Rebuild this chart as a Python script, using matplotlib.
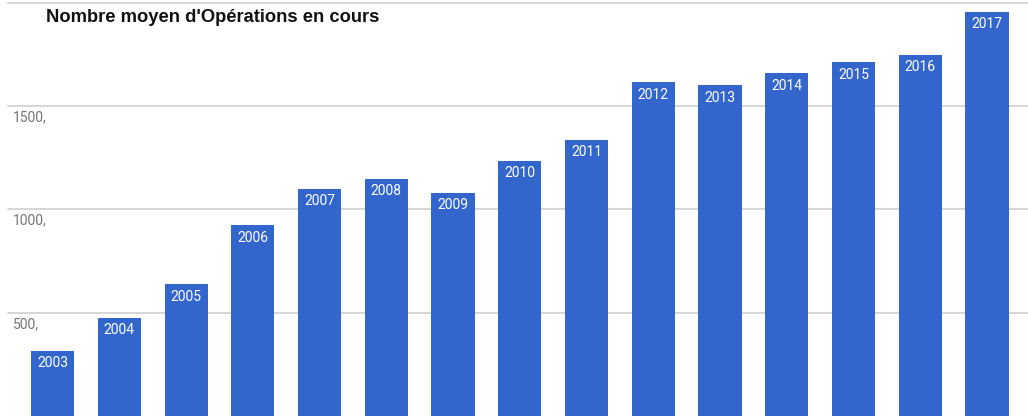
import matplotlib

matplotlib.use("Agg")
import matplotlib.pyplot as plt  # noqa: E402
import numpy as np  # noqa: E402

# données
years = ["2003", "2004", "2005", "2006", "2007", "2008", "2009", "2010",
         "2011", "2012", "2013", "2014", "2015", "2016", "2017"]
operations = [317, 476, 639, 923, 1101, 1149, 1082, 1236,
              1337, 1615, 1601, 1659, 1712, 1750, 1957]
grid_values = [500, 1000, 1500, 2000]
grid_labels = ["500,", "1000,", "1500,", ""]

BLUE = "#3366cc"

fig = plt.figure(figsize=(10.28, 4.16), dpi=100)
ax = fig.add_axes([0, 0, 1, 1])
ax.set_xlim(-0.787, 14.614)
ax.set_ylim(0, 2014)
ax.axis("off")

for value, label in zip(grid_values, grid_labels):
    ax.axhline(value, xmin=8 / 1028, xmax=1.0, color="#d0d0d0", linewidth=1.2, zorder=1)
    if label:
        ax.text(-0.59, value - 20, label, ha="left", va="top", fontsize=10,
                color="#757575", family="Roboto", zorder=1)

x = np.arange(len(years))
ax.bar(x, operations, width=0.645, color=BLUE, zorder=2)
for xi, val, year in zip(x, operations, years):
    ax.text(xi, val - 27, year, ha="center", va="top", fontsize=10,
            color="white", family="Roboto", zorder=3)

fig.text(46 / 1028, 1 - 18 / 416, "Nombre moyen d'Opérations en cours", ha="left", va="center",
         fontsize=13.2, fontweight="bold", family="Liberation Sans", color="#111111")

fig.savefig("out.png", dpi=100)
